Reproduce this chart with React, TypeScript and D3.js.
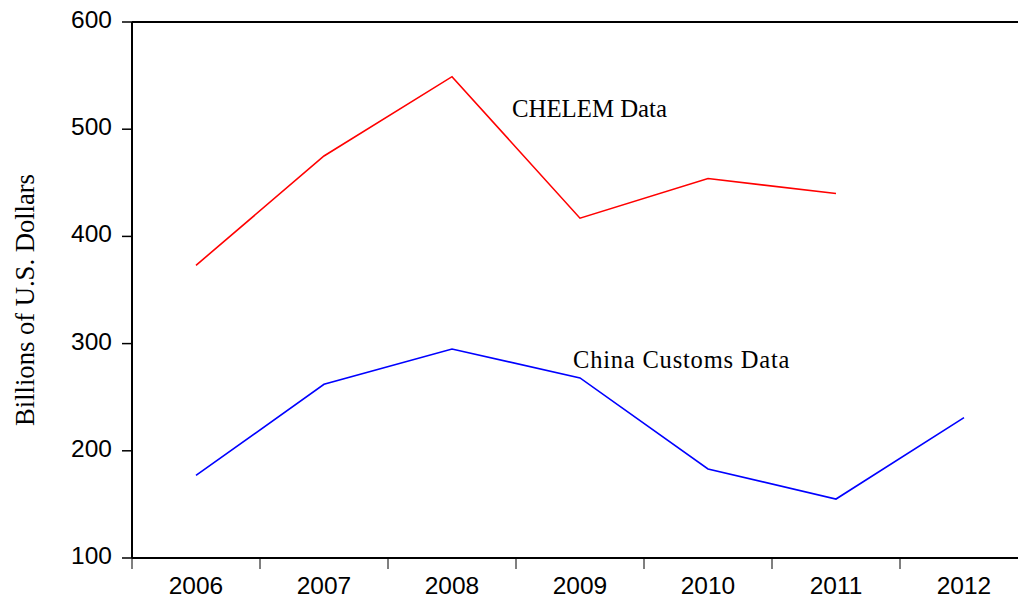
import React from "react";
import * as d3 from "d3";

const years = ["2006", "2007", "2008", "2009", "2010", "2011", "2012"];
const chelem = [373, 475, 549, 417, 454, 440];
const customs = [177, 262, 295, 268, 183, 155, 231];
const yTicks = [100, 200, 300, 400, 500, 600];

export default function App() {
  const W = 1018, H = 607;
  const left = 132, top = 22, bottom = 558, band = 128;
  const x = d3.scaleBand<string>().domain(years).range([left, left + band * years.length]);
  const y = d3.scaleLinear().domain([100, 600]).range([bottom, top]);
  const cx = (i: number) => (x(years[i]) as number) + x.bandwidth() / 2;
  const line = d3.line<number>().x((_, i) => cx(i)).y((d) => y(d));
  const tickEdges = years.map((yr) => x(yr) as number);
  const sans = "Liberation Sans, Arial, sans-serif";
  const serif = "Liberation Serif, Times New Roman, serif";
  return (
    <svg width={W} height={H} style={{ position: "absolute", left: 0, top: 0, background: "#fff" }}>
      <rect width={W} height={H} fill="#fff" />
      <line x1={left} x2={W} y1={top} y2={top} stroke="#000" strokeWidth={2} />
      <line x1={left} x2={W} y1={bottom} y2={bottom} stroke="#000" strokeWidth={2} />
      <line x1={left} x2={left} y1={top} y2={bottom} stroke="#000" strokeWidth={2} />
      {yTicks.map((t) => (
        <g key={t}>
          <line x1={left - 10} x2={left} y1={y(t)} y2={y(t)} stroke="#000" strokeWidth={1.5} />
          <text x={112} y={y(t) + 6} textAnchor="end" fontFamily={sans} fontSize={24.5} fill="#000">{t}</text>
        </g>
      ))}
      {tickEdges.map((e, i) => (
        <line key={i} x1={e} x2={e} y1={bottom} y2={bottom + 11} stroke="#000" strokeWidth={1} />
      ))}
      {years.map((yr, i) => (
        <text key={yr} x={cx(i)} y={594} textAnchor="middle" fontFamily={sans} fontSize={24.5} fill="#000">{yr}</text>
      ))}
      <path d={line(chelem) || ""} fill="none" stroke="#ff0000" strokeWidth={1.6} />
      <path d={line(customs) || ""} fill="none" stroke="#0000ff" strokeWidth={1.6} />
      <text x={512} y={117} fontFamily={serif} fontSize={24.8} fill="#000">CHELEM Data</text>
      <text x={573} y={368} fontFamily={serif} fontSize={24.5} letterSpacing={0.8} fill="#000">China Customs Data</text>
      <text transform={`translate(34, 300) rotate(-90)`} textAnchor="middle" fontFamily={serif} fontSize={26.6} fill="#000">Billions of U.S. Dollars</text>
    </svg>
  );
}
